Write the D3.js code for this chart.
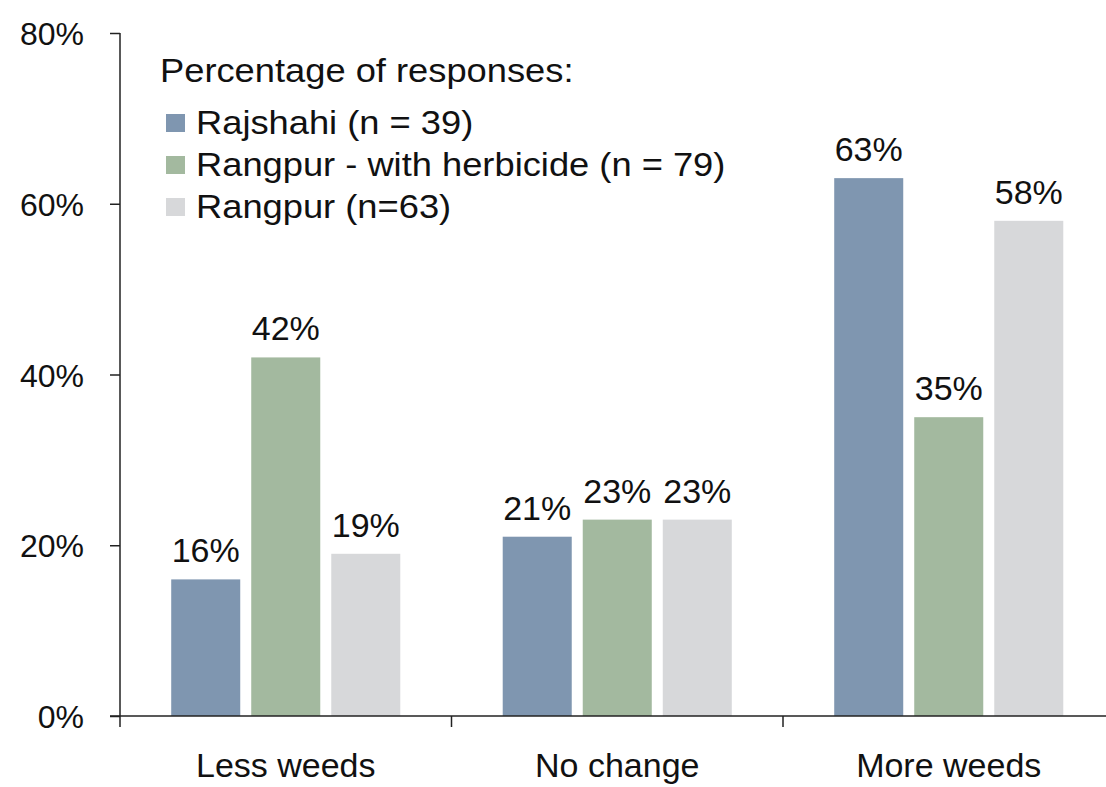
<!DOCTYPE html>
<html><head><meta charset="utf-8">
<script src="https://cdn.jsdelivr.net/npm/d3@7"></script>
<style>html,body{margin:0;padding:0;background:#fff;}svg{display:block;}</style>
</head><body>
<script>
const categories = ["Less weeds", "No change", "More weeds"];
const seriesNames = ["Rajshahi (n = 39)", "Rangpur - with herbicide (n = 79)", "Rangpur (n=63)"];
const rajshahi = [16, 21, 63];
const rangpurHerb = [42, 23, 35];
const rangpur = [19, 23, 58];
const yTicks = [0, 20, 40, 60, 80];
const legendTitle = "Percentage of responses:";
const colors = ["#7f96b0", "#a3b99f", "#d7d8da"];
const seriesValues = [rajshahi, rangpurHerb, rangpur];

const W = 1106, H = 787;
const font = "Liberation Sans, Arial, sans-serif";
const svg = d3.select("body").append("svg").attr("width", W).attr("height", H);

const x0 = 120, yBase = 716, yTop = 33;
const bandW = 331.5;
const x = d3.scaleBand().domain(categories).range([x0, x0 + bandW * 3]).padding(0);
const xs = d3.scaleBand().domain(d3.range(3)).range([0, bandW]).paddingInner(0.1375).paddingOuter(0.64);
const y = d3.scaleLinear().domain([0, 80]).range([yBase, yTop]);

// bars
const data = [];
categories.forEach((c, ci) => seriesValues.forEach((s, si) => data.push({c, si, v: s[ci]})));
svg.selectAll("rect.bar").data(data).enter().append("rect")
  .attr("x", d => x(d.c) + xs(d.si))
  .attr("y", d => y(d.v))
  .attr("width", xs.bandwidth())
  .attr("height", d => yBase - y(d.v))
  .attr("fill", d => colors[d.si]);

svg.selectAll("text.lbl").data(data).enter().append("text")
  .attr("x", d => x(d.c) + xs(d.si) + xs.bandwidth() / 2)
  .attr("y", d => y(d.v) - 17)
  .attr("text-anchor", "middle")
  .attr("font-family", font).attr("font-size", 34).attr("fill", "#111")
  .text(d => d.v + "%");

// y axis
const yAxis = d3.axisLeft(y).tickValues(yTicks).tickSize(10).tickPadding(26).tickFormat(d => d + "%");
const gy = svg.append("g").attr("transform", `translate(${x0},0)`).call(yAxis);
gy.select(".domain").remove();
gy.selectAll(".tick line").attr("stroke", "#222").attr("stroke-width", 1.5);
gy.selectAll(".tick text").attr("font-family", font).attr("font-size", 32).attr("fill", "#111").attr("dy", "0.36em");
svg.append("line").attr("x1", x0).attr("x2", x0).attr("y1", yTop).attr("y2", yBase + 11).attr("stroke", "#222").attr("stroke-width", 1.5);

// x axis
svg.append("line").attr("x1", x0 - 10).attr("x2", W).attr("y1", yBase).attr("y2", yBase).attr("stroke", "#222").attr("stroke-width", 1.5);
const bounds = categories.map(c => x(c)).slice(1);
svg.selectAll("line.xt").data(bounds).enter().append("line")
  .attr("x1", d => d).attr("x2", d => d).attr("y1", yBase).attr("y2", yBase + 11)
  .attr("stroke", "#222").attr("stroke-width", 1.5);
svg.selectAll("text.cat").data(categories).enter().append("text")
  .attr("x", d => x(d) + x.bandwidth() / 2).attr("y", 777)
  .attr("text-anchor", "middle")
  .attr("font-family", font).attr("font-size", 34).attr("fill", "#111")
  .text(d => d);

// legend
const sx = 1.1;
svg.append("text").attr("transform", `translate(160,82) scale(${sx},1)`)
  .attr("font-family", font).attr("font-size", 33).attr("fill", "#111").text(legendTitle);
const lg = svg.selectAll("g.lg").data(seriesNames).enter().append("g")
  .attr("transform", (d, i) => `translate(0,${134 + i * 42})`);
lg.append("rect").attr("x", 166).attr("y", -20).attr("width", 19).attr("height", 18).attr("fill", (d, i) => colors[i]);
lg.append("text").attr("transform", `translate(196,0) scale(${sx},1)`)
  .attr("font-family", font).attr("font-size", 33).attr("fill", "#111").text(d => d);
</script>
</body></html>
